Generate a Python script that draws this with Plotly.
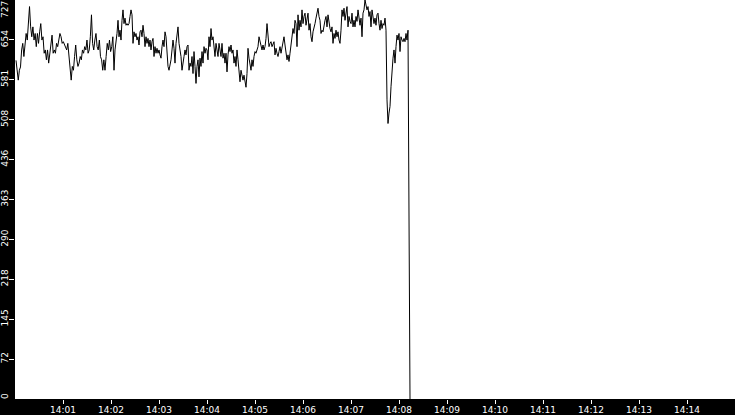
import pandas as pd
import plotly.graph_objects as go


# readings from 14:00:01 to 14:02:04 (sampled a bit coarser)
readings_a = [
    617, 590, 581, 599, 605, 636, 648, 624, 654, 666,
    654, 684, 715, 678, 660, 678, 654, 666, 642, 666,
    648, 669, 684, 654, 660, 630, 636, 618, 636, 612,
    630, 642, 663, 630, 636, 630, 648, 642, 654, 666,
    660, 648, 651, 645, 642, 636, 648, 624, 599, 581,
    606, 599, 624, 645, 618, 606, 612, 624, 618, 636,
    630, 642, 636, 654, 630, 636, 660, 700, 648, 636,
    654, 666, 642, 636, 654, 624, 618, 599, 618, 599,
    624, 648, 636, 654, 633, 642, 660, 599,
]

# readings from 14:02:05 onwards, one every 1.25 s
readings_b = [
    636, 648, 666, 690, 660, 672, 654, 690, 709, 684,
    694, 681, 684, 681, 684, 697, 709, 700, 648, 669,
    660, 666, 654, 660, 645, 669, 672, 660, 681, 666,
    642, 660, 648, 657, 642, 654, 636, 651, 657, 624,
    642, 630, 639, 630, 636, 627, 621, 642, 654, 642,
    669, 660, 630, 606, 599, 606, 618, 636, 654, 639,
    612, 648, 666, 678, 648, 636, 624, 599, 618, 624,
    636, 627, 642, 645, 599, 612, 606, 624, 593, 633,
    606, 575, 606, 618, 587, 621, 606, 633, 612, 642,
    630, 639, 636, 618, 660,
    642, 675, 654, 660, 642, 624, 648, 636, 624, 648,
    630, 624, 648, 621, 630, 612, 630, 596, 627, 642,
    633, 645, 630, 636, 612, 624, 606, 636, 618, 587,
    578, 599, 587, 581, 590, 575, 568, 593, 639, 621,
    606, 599, 618, 606, 624, 633, 630, 636, 642, 660,
    651, 642, 636, 645, 636, 642, 657, 684, 663, 642,
    648, 651, 642, 648, 651, 627, 639, 630, 624, 633,
    642, 630, 639, 654, 660, 645, 633, 618, 627, 615,
    630, 648, 663, 675, 666, 690, 684, 642, 700, 672,
    690, 678, 709, 684, 697, 703,
    681, 694, 703, 672, 684, 660, 651, 669, 681, 684,
    694, 703, 712, 697, 690, 666, 672, 669, 684, 690,
    697, 678, 700, 684, 675, 669, 678, 648, 666, 657,
    672, 660, 669, 654, 648, 672, 709, 697, 712, 690,
    703, 715, 678, 697, 688, 684, 703, 678, 690, 678,
    697, 688, 709, 690, 681, 694, 660, 703, 709, 727,
    718, 709, 715, 697, 706, 678, 709, 690, 684, 694,
    681, 700, 703, 684, 672, 690, 675, 684, 681, 694,
    672, 545, 502, 521, 533, 569, 606, 621, 636, 612,
    642, 663, 654, 666, 633, 660, 654, 651, 657, 651,
    666, 654, 672, 340, 0,
]

day = "2024-01-01"
times_a = pd.date_range(f"{day} 14:00:01.25", f"{day} 14:02:03.75",
                        periods=len(readings_a))
times_b = pd.date_range(f"{day} 14:02:05", periods=len(readings_b),
                        freq="1250ms")

y_ticks = [0, 72.7, 145.4, 218.1, 290.8, 363.5, 436.2, 508.9, 581.6, 654.3, 727]
y_tick_labels = ["0", "72", "145", "218", "290", "363", "436", "508", "581",
                 "654", "727"]
x_ticks = pd.date_range(f"{day} 14:01", f"{day} 14:14", freq="1min")

fig = go.Figure()
fig.add_trace(go.Scatter(
    x=list(times_a) + list(times_b),
    y=readings_a + readings_b,
    mode="lines",
    line=dict(color="black", width=1),
    hoverinfo="x+y",
))

axis_font = dict(family="DejaVu Sans", size=9, color="white")

# the end labels sit inside the axis strip instead of centred on their tick
fig.add_annotation(text=y_tick_labels[-1], xref="paper", yref="paper",
                   x=0, y=1, xanchor="center", yanchor="middle",
                   xshift=-10, yshift=-10, textangle=-90, showarrow=False,
                   font=axis_font)
fig.add_annotation(text=y_tick_labels[0], xref="paper", yref="paper",
                   x=0, y=0, xanchor="center", yanchor="middle",
                   xshift=-10, yshift=3, textangle=-90, showarrow=False,
                   font=axis_font)

fig.update_layout(
    width=735, height=415,
    margin=dict(l=15, r=0, t=0, b=16),
    paper_bgcolor="black", plot_bgcolor="white",
    showlegend=False,
    xaxis=dict(
        range=[f"{day} 14:00:00", f"{day} 14:15:00"],
        tickvals=list(x_ticks), tickformat="%H:%M",
        ticks="outside", ticklen=4, tickcolor="white", tickwidth=1,
        tickfont=axis_font, showgrid=False, zeroline=False,
        automargin=False, ticklabelstandoff=-2,
    ),
    yaxis=dict(
        range=[0, 727],
        tickvals=y_ticks[1:-1], ticktext=y_tick_labels[1:-1], tickangle=-90,
        ticks="outside", ticklen=5, tickcolor="white", tickwidth=1,
        tickfont=axis_font, showgrid=False, zeroline=False,
        automargin=False, ticklabelstandoff=-3,
    ),
)

# the page's default body margin would push the chart out of the window
fig.write_html("out.html", config={"displayModeBar": False},
               post_script="document.body.style.margin = '0';")
